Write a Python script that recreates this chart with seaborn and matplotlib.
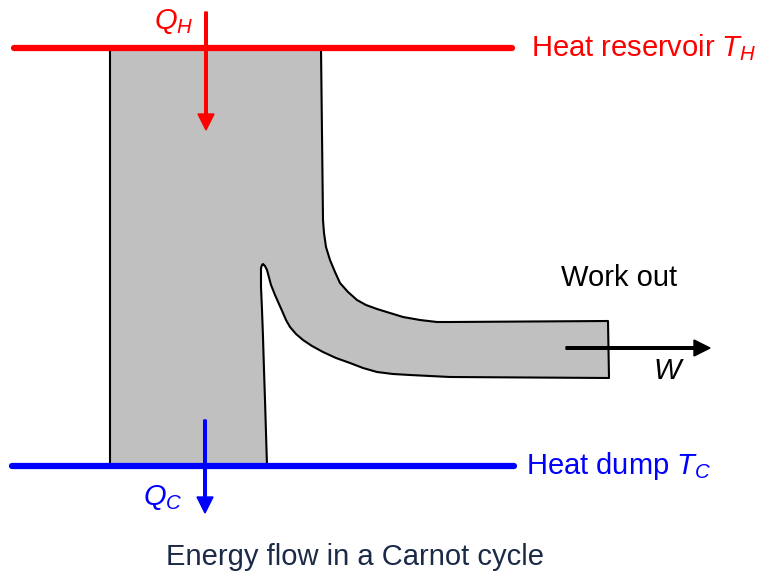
import matplotlib
matplotlib.use("Agg")
import matplotlib.pyplot as plt
import seaborn as sns
import pandas as pd
from matplotlib.patches import Polygon, FancyArrow

sns.set_theme(style="white")
plt.rcParams['font.family'] = ['Liberation Sans', 'DejaVu Sans']
plt.rcParams['mathtext.fontset'] = 'custom'
plt.rcParams['mathtext.rm'] = 'Liberation Sans'
plt.rcParams['mathtext.it'] = 'Liberation Sans:italic'

# Outline of the energy-flow band (diagram units, y grows downward)
flow_x = [110, 321, 323, 324, 326, 330, 335, 340, 348, 357, 366, 377, 390, 403, 420, 437, 450,
          608, 609, 450, 430, 410, 393, 377, 363, 350, 336, 323, 312, 303, 296, 290, 286, 283,
          279, 275, 271, 267, 265, 263, 262, 261, 261, 261, 262, 263, 264, 265, 267, 110]
flow_y = [48, 48, 220, 233, 247, 260, 272, 283, 292, 300, 305, 309, 313, 317, 320, 322, 322,
          321, 378, 377, 376, 375, 374, 372, 368, 363, 358, 352, 346, 340, 334, 327, 320, 313,
          304, 295, 285, 270, 266, 264, 265, 268, 278, 287, 310, 337, 370, 400, 466, 466]

# Reservoir lines
reservoirs = ["Heat reservoir", "Heat dump"]
res_y = [48, 466]
res_x0 = [14, 12]
res_x1 = [512, 514]
res_colors = ["#FF0000", "#0000FF"]

# Flow arrows: (x0, y0, dx, dy)
arrow_names = ["Q_H", "Q_C", "W"]
arrow_start = [(206, 12), (205, 420), (566, 348)]
arrow_delta = [(0, 118), (0, 93), (144, 0)]
arrow_colors = ["#FF0000", "#0000FF", "#000000"]

fig = plt.figure(figsize=(7.6, 5.78), dpi=100)
ax = fig.add_axes([0, 0, 1, 1])

ax.add_patch(Polygon(list(zip(flow_x, flow_y)), closed=True, facecolor="#C0C0C0",
                     edgecolor="black", linewidth=1.5, joinstyle="round", zorder=1))

df = pd.DataFrame({
    "x": res_x0 + res_x1,
    "y": res_y + res_y,
    "name": reservoirs + reservoirs,
})
sns.lineplot(data=df, x="x", y="y", hue="name", palette=dict(zip(reservoirs, res_colors)),
             linewidth=4.5, legend=False, ax=ax, zorder=2, estimator=None, sort=False)
ax.set_xlim(0, 760)
ax.set_ylim(578, 0)
ax.axis("off")

for (x0, y0), (dx, dy), c in zip(arrow_start, arrow_delta, arrow_colors):
    ax.add_patch(FancyArrow(x0, y0, dx, dy, width=2.6, head_width=16, head_length=16,
                            length_includes_head=True, color=c, zorder=3))

fs = 21
ax.text(154, 22, r"$Q_H$", color="#FF0000", fontsize=fs, va="center", ha="left")
ax.text(531, 48, r"Heat reservoir $T_H$", color="#FF0000", fontsize=fs, va="center", ha="left")
ax.text(526, 466, r"Heat dump $T_C$", color="#0000FF", fontsize=fs, va="center", ha="left")
ax.text(143, 497, r"$Q_C$", color="#0000FF", fontsize=fs, va="center", ha="left")
ax.text(561, 278, "Work out", color="black", fontsize=fs, va="center", ha="left")
ax.text(653, 371, r"$W$", color="black", fontsize=fs, va="center", ha="left")
ax.text(355, 557, "Energy flow in a Carnot cycle", color="#1B2A47", fontsize=fs,
        va="center", ha="center")

fig.savefig("out.png", dpi=100)
